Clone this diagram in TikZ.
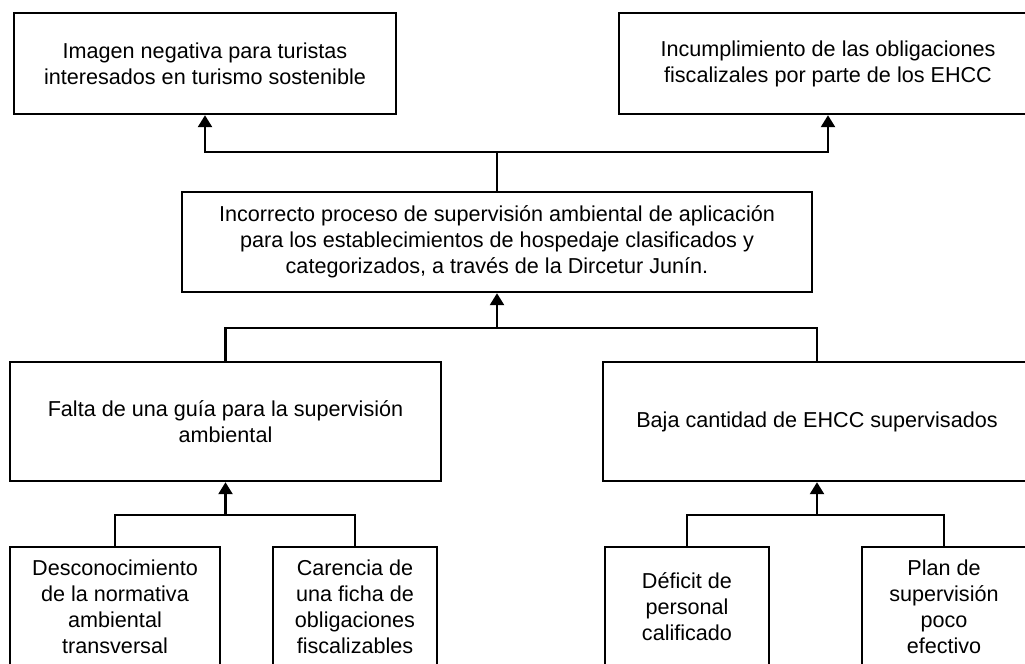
\documentclass[tikz,border=0pt]{standalone}
\usepackage{fontspec}
\setmainfont{Liberation Sans}
\usetikzlibrary{arrows.meta, calc}
\tikzset{
	caja/.style={draw, line width=1.2pt, align=center, inner sep=2pt, minimum height=50.5pt},
	flecha/.style={line width=1.2pt, -{Triangle[length=6pt, width=7pt]}},
	linea/.style={line width=1.2pt}
}

\begin{document}
\begin{tikzpicture}[x=0.5pt, y=0.5pt, font=\fontsize{10.8}{13}\selectfont]
		\useasboundingbox (0,0) rectangle (1025,-664);
		\clip (0,0) rectangle (1025,-664);
		
		\node(efecto1) [caja, minimum width=191pt] at (205,-63.5) {Imagen negativa para turistas\\interesados en turismo sostenible};
		\node(efecto2) [caja, minimum width=209pt] at (828,-63.5) {Incumplimiento de las obligaciones\\fiscalizales por parte de los EHCC};
		
		\node(problema) [caja, minimum width=315pt, minimum height=50pt] at (497,-242) {Incorrecto proceso de supervisión ambiental de aplicación\\para los establecimientos de hospedaje clasificados y\\categorizados, a través de la Dircetur Junín.};
		
		\node(causa1) [caja, minimum width=215.5pt, minimum height=59.5pt] at (225.5,-421.5) {Falta de una guía para la supervisión\\ambiental};
		\node(causa2) [caja, minimum width=214pt, minimum height=59.5pt] at (817,-421.5) {Baja cantidad de EHCC supervisados};
		
		\node(sub1) [caja, minimum width=105pt, minimum height=60pt] at (115,-607) {Desconocimiento\\de la normativa\\ambiental\\transversal};
		\node(sub2) [caja, minimum width=82pt, minimum height=60pt] at (355,-607) {Carencia de\\una ficha de\\obligaciones\\fiscalizables};
		\node(sub3) [caja, minimum width=82pt, minimum height=60pt] at (687,-607) {Déficit de\\personal\\calificado};
		\node(sub4) [caja, minimum width=82pt, minimum height=60pt] at (944,-607) {Plan de\\supervisión\\poco\\efectivo};
		
		\draw[linea] (problema.north) -- ++(0,39) coordinate (b1);
		\draw[flecha] (b1) -| (efecto1.south);
		\draw[flecha] (b1) -| (efecto2.south);
		
		\coordinate (b2) at ($(problema.south)+(0,-35)$);
		\draw[flecha] (b2) -- (problema.south);
		\draw[linea] (causa1.north) |- (b2) -| (causa2.north);
		
		\coordinate (b3) at ($(causa1.south)+(0,-33)$);
		\draw[flecha] (b3) -- (causa1.south);
		\draw[linea] (sub1.north) |- (b3) -| (sub2.north);
		
		\coordinate (b4) at ($(causa2.south)+(0,-33)$);
		\draw[flecha] (b4) -- (causa2.south);
		\draw[linea] (sub3.north) |- (b4) -| (sub4.north);
\end{tikzpicture}
\end{document}
